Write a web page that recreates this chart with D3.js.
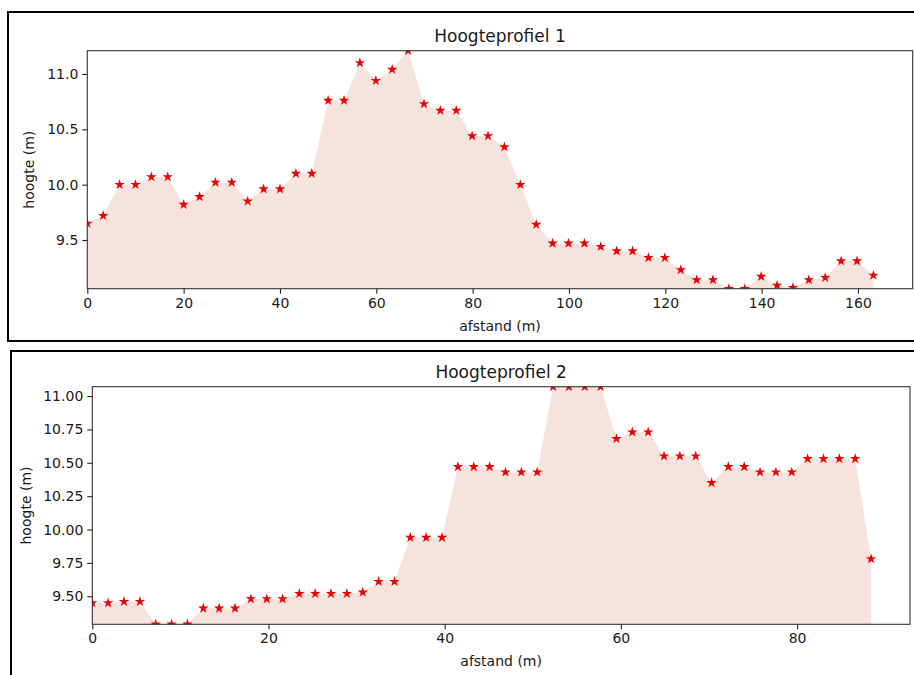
<!DOCTYPE html>
<html>
<head>
<meta charset="utf-8">
<script src="https://d3js.org/d3.v7.min.js"></script>
<style>
  body { margin: 0; background: #fff; }
  text { font-family: "DejaVu Sans", sans-serif; fill: #1a1a1a; }
</style>
</head>
<body>
<div id="chart"></div>
<script>
// profile 1 data
var afstand1 = [0, 3.3, 6.7, 10.0, 13.3, 16.7, 20.0, 23.3, 26.6, 30.0,
  33.3, 36.6, 40.0, 43.3, 46.6, 50.0, 53.3, 56.6, 59.9, 63.3,
  66.6, 69.9, 73.3, 76.6, 79.9, 83.2, 86.6, 89.9, 93.2, 96.6,
  99.9, 103.2, 106.6, 109.9, 113.2, 116.5, 119.9, 123.2, 126.5, 129.9,
  133.2, 136.5, 139.9, 143.2, 146.5, 149.8, 153.2, 156.5, 159.8, 163.2];
var hoogte1 = [9.65, 9.72, 10.00, 10.00, 10.07, 10.07, 9.82, 9.89, 10.02, 10.02,
  9.85, 9.96, 9.96, 10.10, 10.10, 10.76, 10.76, 11.10, 10.94, 11.04,
  11.21, 10.73, 10.67, 10.67, 10.44, 10.44, 10.34, 10.00, 9.64, 9.47,
  9.47, 9.47, 9.44, 9.40, 9.40, 9.34, 9.34, 9.23, 9.14, 9.14,
  9.06, 9.06, 9.17, 9.09, 9.07, 9.14, 9.16, 9.31, 9.31, 9.18];
var xTicks1 = [0, 20, 40, 60, 80, 100, 120, 140, 160];
var yTicks1 = [9.5, 10.0, 10.5, 11.0];

// profile 2 data
var afstand2 = [0, 1.8, 3.6, 5.4, 7.2, 9.0, 10.8, 12.6, 14.4, 16.2,
  18.0, 19.8, 21.6, 23.5, 25.3, 27.1, 28.9, 30.7, 32.5, 34.3,
  36.1, 37.9, 39.7, 41.5, 43.3, 45.1, 46.9, 48.7, 50.5, 52.3,
  54.1, 55.9, 57.7, 59.5, 61.3, 63.1, 64.9, 66.7, 68.5, 70.3,
  72.2, 74.0, 75.8, 77.6, 79.4, 81.2, 83.0, 84.8, 86.6, 88.4];
var hoogte2 = [9.45, 9.45, 9.46, 9.46, 9.29, 9.29, 9.29, 9.41, 9.41, 9.41,
  9.48, 9.48, 9.48, 9.52, 9.52, 9.52, 9.52, 9.53, 9.61, 9.61,
  9.94, 9.94, 9.94, 10.47, 10.47, 10.47, 10.43, 10.43, 10.43, 11.07,
  11.07, 11.07, 11.07, 10.68, 10.73, 10.73, 10.55, 10.55, 10.55, 10.35,
  10.47, 10.47, 10.43, 10.43, 10.43, 10.53, 10.53, 10.53, 10.53, 9.78];
var xTicks2 = [0, 20, 40, 60, 80];
var yTicks2 = [9.50, 9.75, 10.00, 10.25, 10.50, 10.75, 11.00];

var svg = d3.select("#chart")
  .append("svg")
    .attr("width", 914)
    .attr("height", 675);

// draws one panel: outer frame, filled profile, stars, axes
function drawProfile(p) {
  var data = p.x.map(function(d, i) { return {x: d, y: p.y[i]}; });

  // outer frame around the panel
  svg.append("rect")
    .attr("x", p.box[0]).attr("y", p.box[1])
    .attr("width", p.box[2]).attr("height", p.box[3])
    .attr("fill", "none")
    .attr("stroke", "#000")
    .attr("stroke-width", 2);

  var x = d3.scaleLinear()
    .domain([0, d3.max(p.x) * 1.05])
    .range([p.left, p.right]);
  var y = d3.scaleLinear()
    .domain(d3.extent(p.y))
    .range([p.bottom, p.top]);

  svg.append("clipPath")
    .attr("id", p.id)
    .append("rect")
      .attr("x", p.left).attr("y", p.top)
      .attr("width", p.right - p.left).attr("height", p.bottom - p.top);

  var plot = svg.append("g").attr("clip-path", "url(#" + p.id + ")");

  // filled area under the profile
  plot.append("path")
    .datum(data)
    .attr("fill", "#f6e3dd")
    .attr("d", d3.area()
      .x(function(d) { return x(d.x) })
      .y0(p.bottom)
      .y1(function(d) { return y(d.y) })
    );

  // star markers
  plot.selectAll("star")
    .data(data)
    .enter()
    .append("path")
      .attr("transform", function(d) { return "translate(" + x(d.x) + "," + y(d.y) + ")" })
      .attr("d", d3.symbol().type(d3.symbolStar).size(34))
      .attr("fill", "#ec0000");

  // axes
  var xAxis = svg.append("g")
    .attr("transform", "translate(0," + p.bottom + ")")
    .call(d3.axisBottom(x).tickValues(p.xTicks).tickSize(5).tickPadding(4).tickFormat(d3.format("d")));
  var yAxis = svg.append("g")
    .attr("transform", "translate(" + p.left + ",0)")
    .call(d3.axisLeft(y).tickValues(p.yTicks).tickSize(5).tickPadding(4).tickFormat(d3.format(p.yFormat)));
  [xAxis, yAxis].forEach(function(a) {
    a.select(".domain").remove();
    a.selectAll("line").attr("stroke", "#222").attr("stroke-width", 1.1);
    a.selectAll("text").attr("font-size", 14).attr("font-family", "DejaVu Sans").attr("fill", "#1a1a1a");
  });

  // plot frame
  svg.append("rect")
    .attr("x", p.left).attr("y", p.top)
    .attr("width", p.right - p.left).attr("height", p.bottom - p.top)
    .attr("fill", "none")
    .attr("stroke", "#333")
    .attr("stroke-width", 1.1);

  // titles
  svg.append("text")
    .attr("x", (p.left + p.right) / 2).attr("y", p.top - 8.5)
    .attr("text-anchor", "middle")
    .attr("font-size", 17)
    .text(p.title);
  svg.append("text")
    .attr("x", (p.left + p.right) / 2).attr("y", p.bottom + 42)
    .attr("text-anchor", "middle")
    .attr("font-size", 14)
    .text("afstand (m)");
  svg.append("text")
    .attr("transform", "translate(" + p.yLabelX + "," + (p.top + p.bottom) / 2 + ") rotate(-90)")
    .attr("text-anchor", "middle")
    .attr("font-size", 14)
    .text("hoogte (m)");
}

drawProfile({
  id: "clip1", title: "Hoogteprofiel 1",
  x: afstand1, y: hoogte1, xTicks: xTicks1, yTicks: yTicks1, yFormat: ".1f",
  box: [8, 12, 920, 329],
  left: 87.3, right: 912.7, top: 50.7, bottom: 288.7, yLabelX: 34
});

drawProfile({
  id: "clip2", title: "Hoogteprofiel 2",
  x: afstand2, y: hoogte2, xTicks: xTicks2, yTicks: yTicks2, yFormat: ".2f",
  box: [11, 351, 920, 400],
  left: 92.3, right: 910, top: 386.7, bottom: 624.3, yLabelX: 31
});
</script>
</body>
</html>
